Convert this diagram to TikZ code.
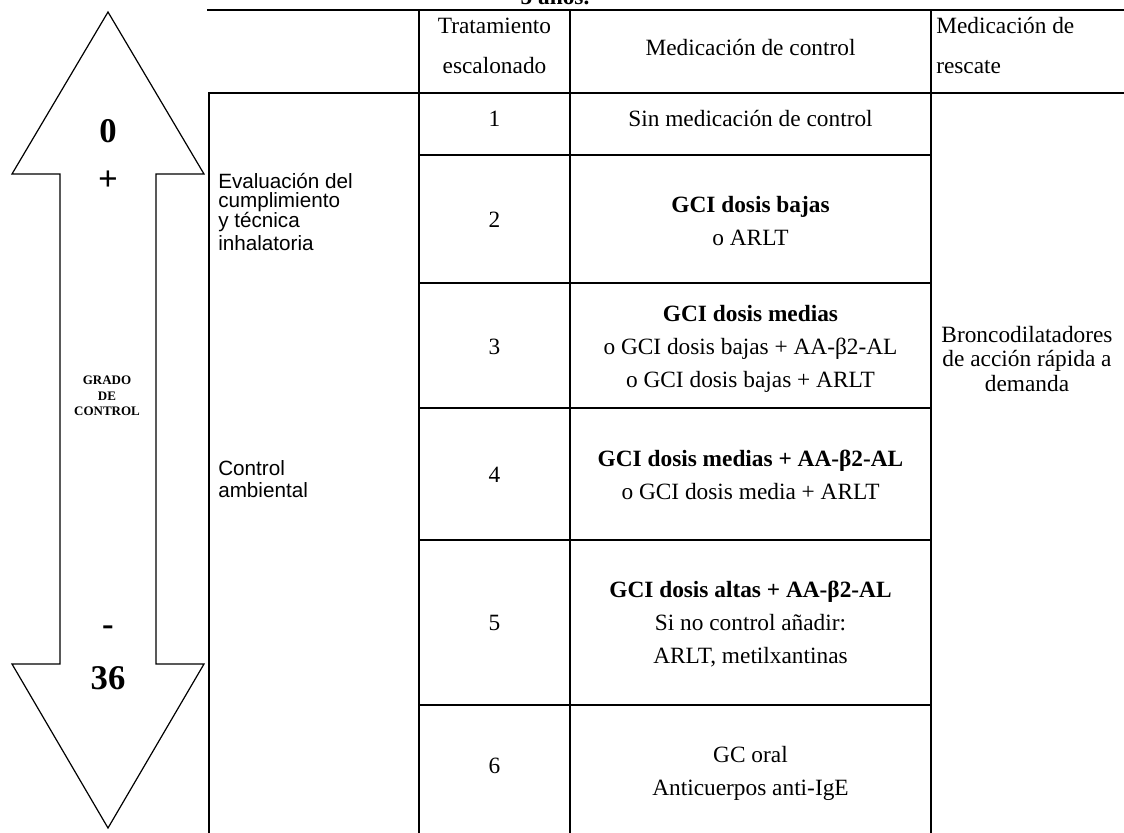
\documentclass[tikz,border=0pt]{standalone}
\usepackage{fontspec}
\setmainfont{Liberation Serif}
\newfontfamily\arialf{Liberation Sans}
\begin{document}
\begin{tikzpicture}[x=0.75pt,y=-0.75pt,
  tt/.style={font=\fontsize{17.5}{20}\selectfont, inner sep=0, anchor=base},
  bt/.style={font=\fontsize{17.5}{20}\selectfont\bfseries, inner sep=0, anchor=base},
  lt/.style={font=\fontsize{17.5}{20}\selectfont, inner sep=0, anchor=base west},
  sf/.style={font=\arialf\fontsize{15.5}{18}\selectfont, inner sep=0, anchor=west},
  big/.style={font=\fontsize{26}{28}\selectfont\bfseries, inner sep=0, anchor=center},
  tbl/.style={line width=1.6pt, line cap=rect},
  arr/.style={line width=0.9pt, line join=miter}]
\useasboundingbox (0,0) rectangle (1124,832);
% title (cut by top edge)
\node[font=\fontsize{17.5}{20}\selectfont\bfseries, inner sep=0, anchor=base] (title) at (555,4) {5 años.};
% arrow
\draw[arr] (108,12) -- (204,174) -- (156,174) -- (156,664) -- (204,664) -- (108,828)
  -- (12,664) -- (60,664) -- (60,174) -- (12,174) -- cycle;
\node[big] (zero) at (108,131) {0};
\node[big] (plus) at (108,181) {+};
\node[big] (minus) at (108,631) {-};
\node[big] (n36) at (108,678) {36};
\node[font=\fontsize{9.75}{11.5}\selectfont\bfseries, align=center, inner sep=0] (grado) at (107,396) {GRADO\\DE\\CONTROL};
% table lines
\draw[tbl] (208,10) -- (1130,10);
\draw[tbl] (209,93) -- (1130,93);
\draw[tbl] (209,93) -- (209,840);
\draw[tbl] (419,10) -- (419,840);
\draw[tbl] (570,10) -- (570,840);
\draw[tbl] (931,10) -- (931,840);
\foreach \yy in {155,283,408,540,705} \draw[tbl] (419,\yy) -- (931,\yy);
% header
\node[tt] (h1a) at (494.5,33) {Tratamiento};
\node[tt] (h1b) at (494.5,73) {escalonado};
\node[tt] (h2) at (750.5,55) {Medicación de control};
\node[lt] (h3a) at (936,33) {Medicación de};
\node[lt] (h3b) at (936,73) {rescate};
% left column
\node[sf] (ev1) at (218,181) {Evaluación del};
\node[sf] (ev2) at (218,202) {cumplimiento};
\node[sf] (ev3) at (218,222) {y técnica};
\node[sf] (ev4) at (218,243) {inhalatoria};
\node[sf] (ca1) at (218,468) {Control};
\node[sf] (ca2) at (218,490) {ambiental};
% rows
\node[tt] (s1) at (494.5,126) {1};
\node[tt] (m1) at (750.5,126) {Sin medicación de control};
\node[tt] (s2) at (494.5,227) {2};
\node[bt] (m2a) at (750.5,212) {GCI dosis bajas};
\node[tt] (m2b) at (750.5,245) {o ARLT};
\node[tt] (s3) at (494.5,354) {3};
\node[bt] (m3a) at (750.5,321) {GCI dosis medias};
\node[tt] (m3b) at (750.5,354) {o GCI dosis bajas + AA-β2-AL};
\node[tt] (m3c) at (750.5,387) {o GCI dosis bajas + ARLT};
\node[tt] (s4) at (494.5,482) {4};
\node[bt] (m4a) at (750.5,466) {GCI dosis medias + AA-β2-AL};
\node[tt] (m4b) at (750.5,499) {o GCI dosis media + ARLT};
\node[tt] (s5) at (494.5,630) {5};
\node[bt] (m5a) at (750.5,597) {GCI dosis altas + AA-β2-AL};
\node[tt] (m5b) at (750.5,630) {Si no control añadir:};
\node[tt] (m5c) at (750.5,663) {ARLT, metilxantinas};
\node[tt] (s6) at (494.5,773) {6};
\node[tt] (m6a) at (750.5,762) {GC oral};
\node[tt] (m6b) at (750.5,795) {Anticuerpos anti-IgE};
% rescue
\node[font=\fontsize{17.5}{18.5}\selectfont, align=center, inner sep=0] (resc) at (1027,359) {Broncodilatadores\\de acción rápida a\\demanda};
\end{tikzpicture}
\end{document}
